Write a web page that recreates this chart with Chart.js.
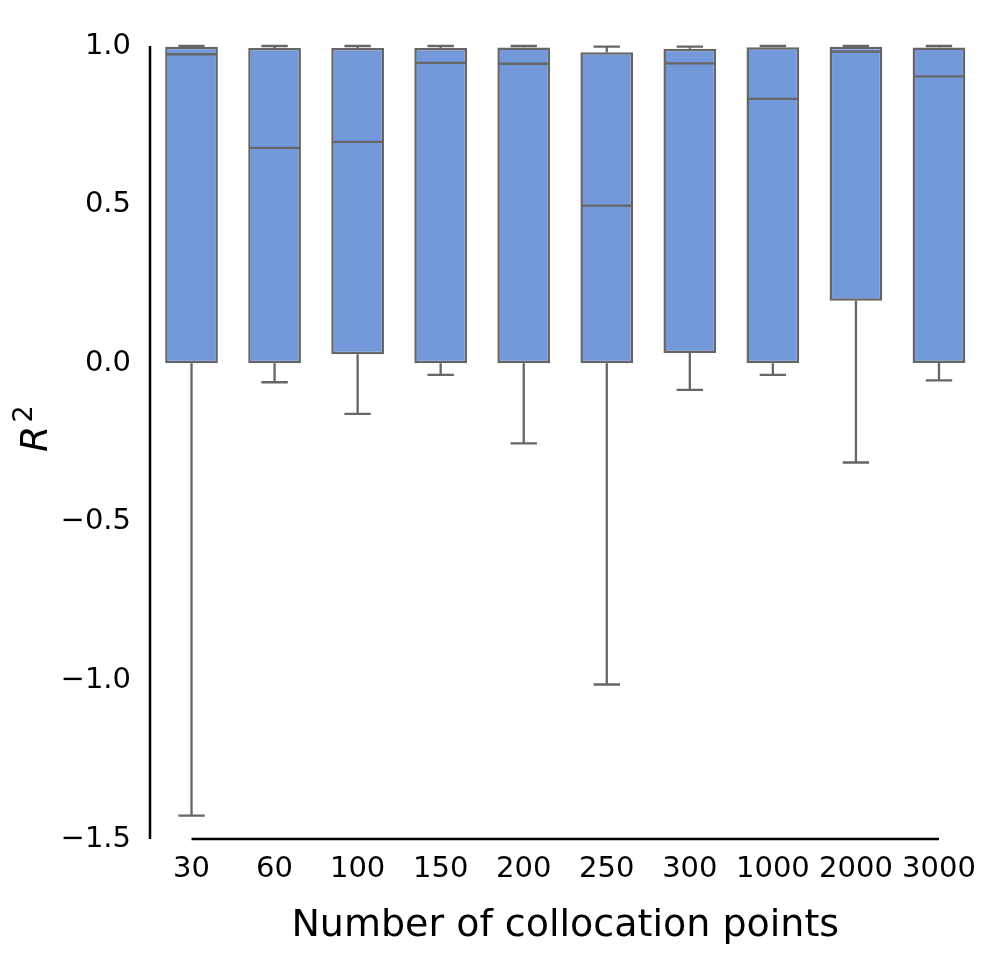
<!DOCTYPE html>
<html>
<head>
<meta charset="utf-8">
<script src="https://cdn.jsdelivr.net/npm/chart.js@4/dist/chart.umd.min.js"></script>
<style>
  html, body { margin: 0; padding: 0; background: #fff; }
  #wrap { width: 996px; height: 960px; }
</style>
</head>
<body>
<div id="wrap"><canvas id="c" width="996" height="960"></canvas></div>
<script>
// ---- data ----
const categories  = ['30', '60', '100', '150', '200', '250', '300', '1000', '2000', '3000'];
const whiskerHigh = [1.000, 1.000, 1.000, 1.000, 1.000, 0.998, 0.998, 1.000, 1.000, 1.000];
const q3Values    = [0.998, 0.994, 0.994, 0.994, 0.995, 0.980, 0.991, 0.996, 0.998, 0.995];
const medians     = [0.974, 0.679, 0.698, 0.947, 0.944, 0.497, 0.945, 0.833, 0.982, 0.904];
const q1Values    = [0.000, 0.000, 0.028, 0.000, 0.000, 0.000, 0.032, 0.000, 0.197, 0.001];
const whiskerLow  = [-1.426, -0.060, -0.160, -0.037, -0.253, -1.013, -0.084, -0.037, -0.313, -0.054];
const yTickValues = [-1.5, -1.0, -0.5, 0.0, 0.5, 1.0];
const xTitle = 'Number of collocation points';

const BOX_FILL = 'rgb(116,153,219)';
const LINE_GRAY = '#666666';
const FONT = "'DejaVu Sans', sans-serif";

const boxData = q1Values.map((q1, i) => [q1, q3Values[i]]);

const boxPlugin = {
  id: 'boxParts',
  afterDatasetsDraw(chart) {
    const ctx = chart.ctx;
    const y = chart.scales.y;
    const meta = chart.getDatasetMeta(0);
    ctx.save();
    ctx.strokeStyle = LINE_GRAY;
    ctx.lineWidth = 2.3;
    ctx.lineCap = 'butt';
    meta.data.forEach((bar, i) => {
      const cx = bar.x;
      const w = bar.width;
      const capHalf = w / 4;
      const pHigh = y.getPixelForValue(whiskerHigh[i]);
      const pQ3 = y.getPixelForValue(q3Values[i]);
      const pQ1 = y.getPixelForValue(q1Values[i]);
      const pLow = y.getPixelForValue(whiskerLow[i]);
      const pMed = y.getPixelForValue(medians[i]);
      ctx.beginPath();
      ctx.moveTo(cx, pQ3); ctx.lineTo(cx, pHigh);
      ctx.moveTo(cx - capHalf, pHigh); ctx.lineTo(cx + capHalf, pHigh);
      ctx.moveTo(cx, pQ1); ctx.lineTo(cx, pLow);
      ctx.moveTo(cx - capHalf, pLow); ctx.lineTo(cx + capHalf, pLow);
      ctx.moveTo(cx - w / 2 + 1, pMed); ctx.lineTo(cx + w / 2 - 1, pMed);
      ctx.stroke();
    });
    ctx.restore();
  },
  afterDraw(chart) {
    const ctx = chart.ctx;
    const x = chart.scales.x;
    const y = chart.scales.y;
    const area = chart.chartArea;
    ctx.save();
    ctx.strokeStyle = '#000';
    ctx.lineWidth = 2.5;
    ctx.beginPath();
    const yTop = y.getPixelForValue(yTickValues[yTickValues.length - 1]);
    const yBot = y.getPixelForValue(yTickValues[0]);
    ctx.moveTo(area.left, yTop); ctx.lineTo(area.left, yBot);
    ctx.moveTo(x.getPixelForValue(0), yBot); ctx.lineTo(x.getPixelForValue(categories.length - 1), yBot);
    ctx.stroke();
    ctx.fillStyle = '#000';
    ctx.font = '38px ' + FONT;
    ctx.textAlign = 'center';
    ctx.textBaseline = 'alphabetic';
    ctx.fillText(xTitle, (area.left + area.right) / 2, 936);
    ctx.translate(47, 452);
    ctx.rotate(-Math.PI / 2);
    ctx.textAlign = 'left';
    ctx.font = 'italic 38px ' + FONT;
    ctx.fillText('R', 0, 0);
    const rw = ctx.measureText('R').width;
    ctx.font = '27px ' + FONT;
    ctx.fillText('2', rw + 3, -15);
    ctx.restore();
  }
};

new Chart(document.getElementById('c'), {
  type: 'bar',
  data: {
    labels: categories,
    datasets: [{
      data: boxData,
      backgroundColor: BOX_FILL,
      borderColor: LINE_GRAY,
      borderWidth: 2.5,
      borderSkipped: false,
      barPercentage: 0.635,
      categoryPercentage: 1.0
    }]
  },
  options: {
    responsive: false,
    devicePixelRatio: 1,
    animation: false,
    events: [],
    layout: { padding: { top: 46, right: 15.5, left: 0, bottom: 0 } },
    plugins: { legend: { display: false }, tooltip: { enabled: false } },
    scales: {
      x: {
        type: 'category',
        offset: true,
        grid: { display: false, drawTicks: false },
        border: { display: false },
        ticks: {
          autoSkip: false, maxRotation: 0, minRotation: 0,
          color: '#000', font: { family: FONT, size: 29 }, padding: 13
        },
        afterFit(scale) { scale.height = 121; }
      },
      y: {
        min: yTickValues[0],
        max: yTickValues[yTickValues.length - 1],
        grid: { display: false, drawTicks: false },
        border: { display: false },
        afterBuildTicks(scale) { scale.ticks = yTickValues.map(v => ({ value: v })); },
        ticks: {
          color: '#000', font: { family: FONT, size: 29 }, padding: 19,
          callback(v) { const s = Math.abs(v).toFixed(1); return v < 0 ? '\u2212' + s : s; }
        },
        afterFit(scale) { scale.width = 150; }
      }
    }
  },
  plugins: [boxPlugin]
});
</script>
</body>
</html>
